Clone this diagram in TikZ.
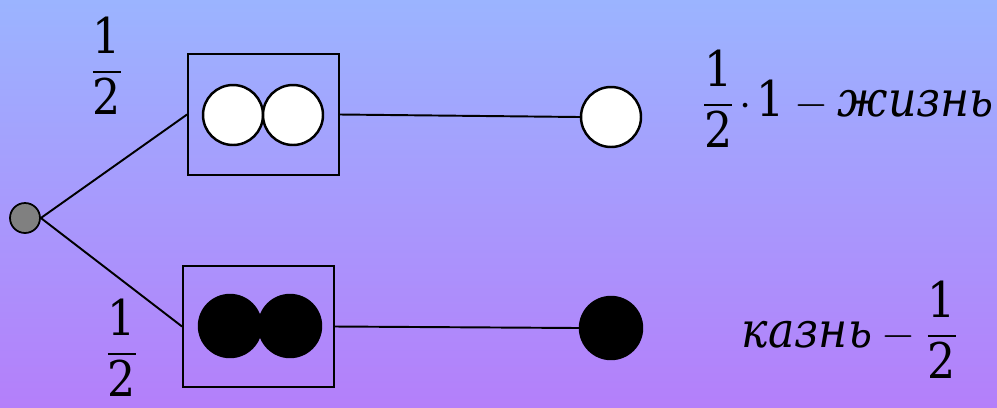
\documentclass[tikz,border=0pt]{standalone}
\usepackage{amsmath}
\usepackage{fontspec}
\setmainfont{DejaVu Serif}[FakeStretch=0.9]
\newfontfamily\tnr{DejaVu Serif}[FakeStretch=0.9]
\definecolor{bgtop}{RGB}{155,180,255}
\definecolor{bgmid}{RGB}{150,96,255}
\definecolor{bgbot}{RGB}{180,127,250}
\tikzset{
  ball/.style={circle, draw, line width=1.4pt, minimum size=1.2cm, inner sep=0pt},
  urn/.style={draw, line width=1.1pt, minimum width=3.02cm, minimum height=2.42cm, inner sep=0pt},
  lbl/.style={inner sep=0pt, font=\tnr\fontsize{28}{34}\selectfont},
}
\newcommand{\half}{\dfrac{\mbox{\tnr 1}}{\mbox{\tnr 2}}}
\begin{document}
\begin{tikzpicture}[x=0.02cm, y=-0.02cm, line width=1.1pt]
  \shade[top color=bgtop, middle color=bgmid, bottom color=bgbot] (0,0) rectangle (997,407);
  \useasboundingbox (0,0) rectangle (997,407);
  % start
  \node[ball, fill=gray, minimum size=0.6cm, line width=1pt] (s) at (25,218) {};
  % urns
  \node[urn] (u1) at (263.5,114.5) {};
  \node[urn] (u2) at (258.5,326.5) {};
  \node[ball, fill=white] (w1) at (233,115) {};
  \node[ball, fill=white] (w2) at (293,115) {};
  \node[ball, fill=black, minimum size=1.24cm] (b1) at (230,326) {};
  \node[ball, fill=black, minimum size=1.24cm] (b2) at (290,326) {};
  % outcomes
  \node[ball, fill=white] (w) at (611,117) {};
  \node[ball, fill=black, minimum size=1.24cm] (b) at (611,328) {};
  \draw (s.east) -- (u1.west);
  \draw (s.east) -- (u2.west);
  \draw (u1.east) -- (w.west);
  \draw (u2.east) -- (b.west);
  % labels
  \node[lbl] (p1) at (107,66) {$\half$};
  \node[lbl] (p2) at (122,348) {$\half$};
  \node[lbl] (r1) at (848,99) {$\half\mskip2mu{\cdot}\mskip2mu\mbox{\tnr 1} - \mbox{\tnr\itshape жизнь}$};
  \node[lbl] (r2) at (850,330) {$\mbox{\tnr\itshape казнь} - \half$};
\end{tikzpicture}
\end{document}
